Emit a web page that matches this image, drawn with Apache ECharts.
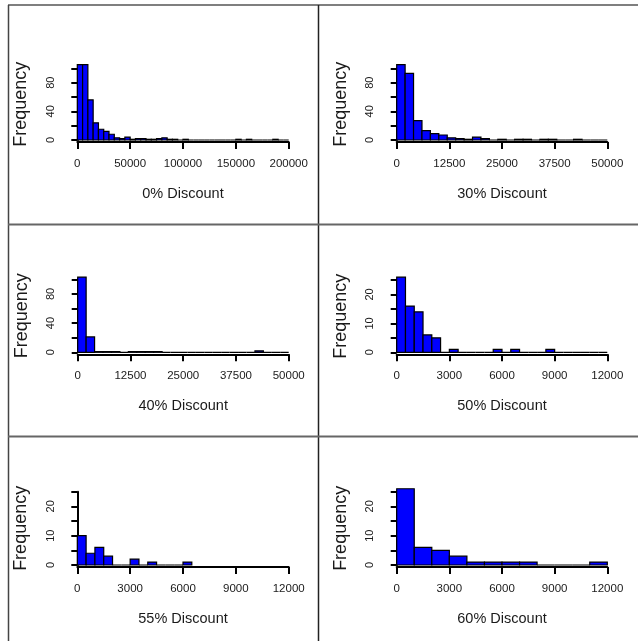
<!DOCTYPE html>
<html>
<head>
<meta charset="utf-8">
<script src="https://cdn.jsdelivr.net/npm/echarts@6/dist/echarts.min.js"></script>
<style>
  html, body { margin: 0; padding: 0; background: #fff; }
  #chart { width: 638px; height: 641px; }
</style>
</head>
<body>
<div id="chart"></div>
<script>
// Histograms of order values by discount level (bin counts per bin width)
const panelTitles = ['0% Discount', '30% Discount', '40% Discount', '50% Discount', '55% Discount', '60% Discount'];
const binWidths = [5000, 2000, 2000, 500, 500, 1000];

const counts0 = [105, 105, 56, 24, 15, 12, 8, 3, 2, 4, 1, 2, 2, 1, 1, 2, 3, 1, 1, 0,
                 1, 0, 0, 0, 0, 0, 0, 0, 0, 0, 1, 0, 1, 0, 0, 0, 0, 1, 0, 0];
const counts30 = [105, 93, 27, 13, 9, 7, 3, 2, 1, 4, 2, 0, 1, 0, 1, 1, 0, 1, 1, 0, 0, 1, 0, 0, 0];
const counts40 = [103, 21, 1, 1, 1, 0, 1, 1, 1, 1, 0, 0, 0, 0, 0, 0, 0, 0, 0, 0, 0, 2, 0, 0, 0];
const counts50 = [26, 16, 14, 6, 5, 0, 1, 0, 0, 0, 0, 1, 0, 1, 0, 0, 0, 1, 0, 0, 0, 0, 0, 0];
const counts55 = [10, 4, 6, 3, 0, 0, 2, 0, 1, 0, 0, 0, 1];
const counts60 = [26, 6, 5, 3, 1, 1, 1, 1, 0, 0, 0, 1];
const allCounts = [counts0, counts30, counts40, counts50, counts55, counts60];

// Axis ticks and the subset of y ticks that carry a label
const xTicks0 = [0, 50000, 100000, 150000, 200000];
const xTicks30 = [0, 12500, 25000, 37500, 50000];
const xTicks40 = [0, 12500, 25000, 37500, 50000];
const xTicksSmall = [0, 3000, 6000, 9000, 12000];
const xTickSets = [xTicks0, xTicks30, xTicks40, xTicksSmall, xTicksSmall, xTicksSmall];

const yTicksLarge = [0, 20, 40, 60, 80, 100];
const yLabelsLarge = [0, 40, 80];
const yTicksSmall = [0, 5, 10, 15, 20, 25];
const yLabelsSmall = [0, 10, 20];
const yTickSets = [yTicksLarge, yTicksLarge, yTicksLarge, yTicksSmall, yTicksSmall, yTicksSmall];
const yLabelSets = [yLabelsLarge, yLabelsLarge, yLabelsLarge, yLabelsSmall, yLabelsSmall, yLabelsSmall];

// Plot rectangles in pixels
const gridBoxes = [
  { left: 77.3, top: 68.3, width: 211.4, height: 71.7 },
  { left: 396.7, top: 68.3, width: 210.6, height: 71.7 },
  { left: 77.7, top: 279.3, width: 211, height: 73 },
  { left: 396.7, top: 280, width: 210.6, height: 72.3 },
  { left: 77.3, top: 491.7, width: 211.4, height: 73.3 },
  { left: 396.7, top: 491.7, width: 210.6, height: 73.3 }
];

const FONT = '"Liberation Sans", Arial, sans-serif';
const TXT = '#1a1a1a';

const grids = [], xAxes = [], yAxes = [], series = [];
gridBoxes.forEach((g, i) => {
  grids.push({ left: g.left, top: g.top, width: g.width, height: g.height, containLabel: false });
  const xt = xTickSets[i], yt = yTickSets[i], yl = yLabelSets[i];
  xAxes.push({
    type: 'value', gridIndex: i,
    min: xt[0], max: xt[xt.length - 1], interval: xt[1] - xt[0],
    offset: 2,
    axisLine: { show: true, onZero: false, lineStyle: { color: '#000', width: 2 } },
    axisTick: { show: true, length: 7, lineStyle: { color: '#000', width: 2 } },
    axisLabel: { show: true, margin: 16, fontSize: 11.5, color: TXT, fontFamily: FONT,
                 showMinLabel: true, showMaxLabel: true, hideOverlap: false,
                 formatter: v => String(v) },
    splitLine: { show: false },
    name: panelTitles[i], nameLocation: 'middle', nameGap: 44,
    nameTextStyle: { fontSize: 14.5, color: TXT, fontFamily: FONT }
  });
  yAxes.push({
    type: 'value', gridIndex: i,
    min: yt[0], max: yt[yt.length - 1], interval: yt[1] - yt[0],
    offset: 6,
    axisLine: { show: true, lineStyle: { color: '#000', width: 2 } },
    axisTick: { show: true, length: 6, lineStyle: { color: '#000', width: 2 } },
    axisLabel: { show: true, rotate: 90, margin: 15, fontSize: 11, color: TXT, fontFamily: FONT,
                 showMinLabel: true, showMaxLabel: true, hideOverlap: false,
                 formatter: v => (yl.indexOf(v) >= 0 ? String(v) : '') },
    splitLine: { show: false },
    name: 'Frequency', nameLocation: 'middle', nameGap: 41, nameRotate: 90,
    nameTextStyle: { fontSize: 18, color: TXT, fontFamily: FONT }
  });
  const w = binWidths[i];
  const data = allCounts[i].map((c, k) => [k * w, (k + 1) * w, c]);
  series.push({
    type: 'custom', xAxisIndex: i, yAxisIndex: i, clip: false,
    data: data,
    encode: { x: [0, 1], y: 2 },
    renderItem: (params, api) => {
      const p0 = api.coord([api.value(0), 0]);
      const p1 = api.coord([api.value(1), api.value(2)]);
      return {
        type: 'rect',
        shape: { x: p0[0], y: p1[1], width: p1[0] - p0[0], height: p0[1] - p1[1] },
        style: { fill: '#0000ff', stroke: '#000', lineWidth: 1.2 }
      };
    }
  });
});

// Panel separators
const frame = [
  { x1: 8, y1: 5, x2: 638, y2: 5, c: '#555', w: 1.5 },
  { x1: 8.5, y1: 5, x2: 8.5, y2: 641, c: '#444', w: 1.5 },
  { x1: 318.5, y1: 5, x2: 318.5, y2: 641, c: '#222', w: 1.5 },
  { x1: 8, y1: 224.5, x2: 638, y2: 224.5, c: '#666', w: 2 },
  { x1: 8, y1: 436.5, x2: 638, y2: 436.5, c: '#666', w: 2 }
];
const graphic = frame.map(f => ({
  type: 'line', silent: true,
  shape: { x1: f.x1, y1: f.y1, x2: f.x2, y2: f.y2 },
  style: { stroke: f.c, lineWidth: f.w }
}));

const chart = echarts.init(document.getElementById('chart'), null, { renderer: 'canvas' });
chart.setOption({
  animation: false,
  backgroundColor: '#fff',
  grid: grids, xAxis: xAxes, yAxis: yAxes, series: series,
  graphic: graphic
});
</script>
</body>
</html>
